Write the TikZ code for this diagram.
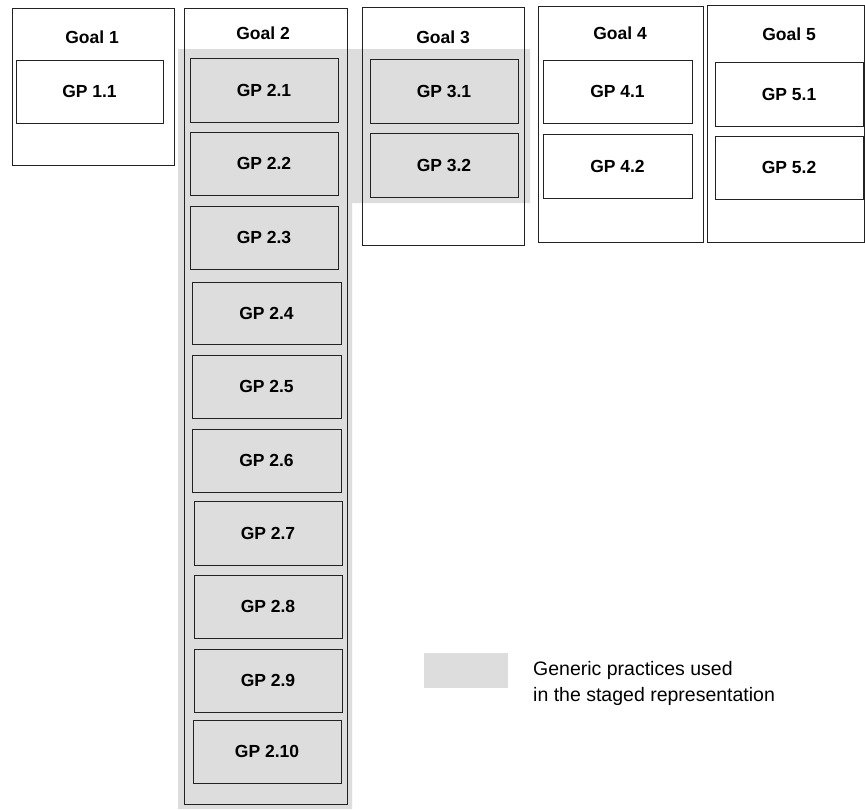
\documentclass[tikz,border=0pt]{standalone}
\usepackage{fontspec}
\setmainfont{Liberation Sans}
\definecolor{band}{RGB}{221,221,221}
\definecolor{edge}{RGB}{34,34,34}
\begin{document}
\begin{tikzpicture}[x=1pt,y=-1pt,
  goalbox/.style={draw=edge,line width=1pt,inner sep=0pt,rectangle},
  gpbox/.style={draw=edge,line width=1pt,inner sep=0pt,rectangle,minimum width=148pt,minimum height=63pt,
     font=\fontsize{17.5}{21}\selectfont\bfseries},
  white/.style={fill=white},
  grey/.style={fill=band},
  goaltitle/.style={inner sep=0pt,font=\fontsize{17.5}{21}\selectfont\bfseries}]
\useasboundingbox (0,0) rectangle (865,809);
% shaded band of generic practices used in the staged representation
\fill[band] (178,49) -- (530,49) -- (530,203) -- (352,203) -- (352,809) -- (178,809) -- cycle;
% goal columns
\node[goalbox,minimum width=162pt,minimum height=157pt] (g1) at (93,86.5) {};
\node[goalbox,minimum width=163pt,minimum height=796pt] (g2) at (265.5,406) {};
\node[goalbox,minimum width=162pt,minimum height=238pt] (g3) at (443,126) {};
\node[goalbox,minimum width=165pt,minimum height=236pt] (g4) at (620.5,124) {};
\node[goalbox,minimum width=157pt,minimum height=237pt] (g5) at (785.5,123.5) {};
\node[goaltitle] (g1t) at (92,37) {Goal 1};
\node[goaltitle] (g2t) at (263,33) {Goal 2};
\node[goaltitle] (g3t) at (443,37) {Goal 3};
\node[goaltitle] (g4t) at (620,33) {Goal 4};
\node[goaltitle] (g5t) at (789,34) {Goal 5};
% generic practices
\node[gpbox,white,minimum width=147pt] (gp11) at (89.5,91.5) {GP 1.1};
\node[gpbox,grey,minimum height=64pt] (gp21) at (264,90) {GP 2.1};
\node[gpbox,grey] (gp22) at (264,163.5) {GP 2.2};
\node[gpbox,grey] (gp23) at (264,237.5) {GP 2.3};
\node[gpbox,grey,minimum width=149pt,minimum height=62pt] (gp24) at (266.5,313) {GP 2.4};
\node[gpbox,grey,minimum width=149pt] (gp25) at (266.5,386.5) {GP 2.5};
\node[gpbox,grey,minimum width=149pt] (gp26) at (266.5,460.5) {GP 2.6};
\node[gpbox,grey,minimum height=64pt] (gp27) at (268,533) {GP 2.7};
\node[gpbox,grey] (gp28) at (268,606.5) {GP 2.8};
\node[gpbox,grey] (gp29) at (268,680.5) {GP 2.9};
\node[gpbox,grey] (gp210) at (267,751.5) {GP 2.10};
\node[gpbox,grey,minimum height=64pt] (gp31) at (444,91) {GP 3.1};
\node[gpbox,grey,minimum height=64pt] (gp32) at (444,165) {GP 3.2};
\node[gpbox,white,minimum width=149pt] (gp41) at (617.5,91.5) {GP 4.1};
\node[gpbox,white,minimum width=149pt,minimum height=64pt] (gp42) at (617.5,166) {GP 4.2};
\node[gpbox,white,minimum height=64pt] (gp51) at (789,94) {GP 5.1};
\node[gpbox,white] (gp52) at (789,167.5) {GP 5.2};
% legend
\node[fill=band,inner sep=0pt,minimum width=84pt,minimum height=35pt] (key) at (466,670.5) {};
\node[anchor=west,inner sep=0pt,align=left,font=\fontsize{19.5}{26}\selectfont] (keytext) at (533,683)
  {Generic practices used\\in the staged representation};
\end{tikzpicture}
\end{document}
